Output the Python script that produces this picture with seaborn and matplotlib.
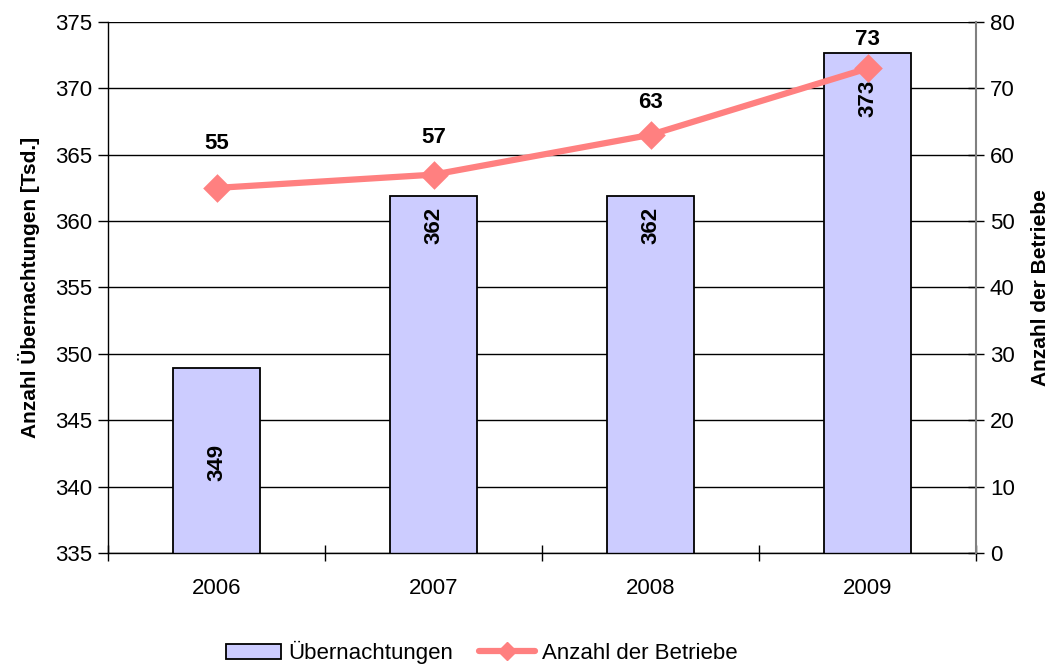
import matplotlib
matplotlib.use("Agg")
import matplotlib.pyplot as plt
import seaborn as sns
import numpy as np
import pandas as pd
from matplotlib.patches import Patch
from matplotlib.lines import Line2D
from matplotlib.ticker import FixedLocator

years = ["2006", "2007", "2008", "2009"]
uebernachtungen = [348.9, 361.9, 361.9, 372.7]
uebernachtungen_labels = ["349", "362", "362", "373"]
betriebe = [55, 57, 63, 73]
betriebe_labels = ["55", "57", "63", "73"]

sns.set_theme(style="white")
plt.rcParams["font.family"] = ["Liberation Sans", "DejaVu Sans"]
plt.rcParams["text.color"] = "black"
plt.rcParams["axes.labelcolor"] = "black"
plt.rcParams["xtick.color"] = "black"
plt.rcParams["ytick.color"] = "black"

BAR_COLOR = "#CCCCFF"
LINE_COLOR = "#FF8080"

df = pd.DataFrame({"Jahr": years, "Uebernachtungen": uebernachtungen, "Betriebe": betriebe})

fig = plt.figure(figsize=(10.63, 6.66), dpi=100)
ax = fig.add_axes([0.1016, 0.1697, 0.8166, 0.7973])

sns.barplot(data=df, x="Jahr", y="Uebernachtungen", color=BAR_COLOR, saturation=1,
            width=0.405, edgecolor="black", linewidth=1.3, ax=ax, zorder=2)
ax.set_ylim(335, 375)
ax.set_yticks(np.arange(335, 376, 5))
ax.set_xlim(-0.5, 3.5)
ax.set_axisbelow(True)
ax.yaxis.grid(True, color="black", linewidth=1.0)
ax.xaxis.grid(False)
ax.set_xlabel("")
ax.set_ylabel("Anzahl Übernachtungen [Tsd.]", fontsize=15, fontweight="bold", labelpad=11)
ax.tick_params(axis="y", which="major", direction="out", length=7, width=1, color="black",
               labelsize=16, left=True, pad=4, labelcolor="black")
ax.tick_params(axis="x", which="major", length=0, labelsize=16, pad=18, labelcolor="black")
ax.xaxis.set_minor_locator(FixedLocator(np.arange(-0.5, len(years), 1.0)))
ax.tick_params(axis="x", which="minor", direction="inout", length=12, width=1, color="black", bottom=True)
for s in ["left", "bottom"]:
    ax.spines[s].set_color("black")
    ax.spines[s].set_linewidth(1.0)
ax.spines["top"].set_visible(False)
ax.spines["right"].set_visible(False)

# bar labels (offset from top of bar in points)
bar_label_offsets = [-68, -21, -21, -33]
for i, (v, lab) in enumerate(zip(uebernachtungen, uebernachtungen_labels)):
    ax.annotate(lab, xy=(i, v), xytext=(0, bar_label_offsets[i]), textcoords="offset points",
                ha="center", va="center", rotation=90, fontsize=16, fontweight="bold",
                color="black", zorder=5)

ax2 = ax.twinx()
sns.pointplot(data=df, x="Jahr", y="Betriebe", color=LINE_COLOR, markers="D",
              linewidth=4.5, markersize=11, ax=ax2, zorder=4)
ax2.set_xlim(-0.5, 3.5)
ax2.set_ylim(0, 80)
ax2.set_yticks(np.arange(0, 81, 10))
ax2.set_ylabel("Anzahl der Betriebe", fontsize=15, fontweight="bold", labelpad=12)
ax2.tick_params(axis="y", direction="inout", length=12, width=1, color="black", labelsize=16,
                right=True, pad=4, labelcolor="black")
for s in ["left", "top", "bottom"]:
    ax2.spines[s].set_visible(False)
ax2.spines["right"].set_color("#808080")
ax2.spines["right"].set_linewidth(1.5)
ax2.grid(False)

line_label_offsets = [32, 27, 23, 21]
for i, (v, lab) in enumerate(zip(betriebe, betriebe_labels)):
    ax2.annotate(lab, xy=(i, v), xytext=(0, line_label_offsets[i]), textcoords="offset points",
                 ha="center", va="center", fontsize=16, fontweight="bold", color="black")

handles = [
    Patch(facecolor=BAR_COLOR, edgecolor="black", linewidth=1.3, label="Übernachtungen"),
    Line2D([0], [0], color=LINE_COLOR, linewidth=4.5, marker="D", markersize=9, label="Anzahl der Betriebe"),
]
fig.legend(handles=handles, loc="center", bbox_to_anchor=(0.453, 0.02), ncol=2, frameon=False,
           fontsize=16, handlelength=2.5, handletextpad=0.3, columnspacing=1.2)

fig.savefig("out.png", dpi=100)
